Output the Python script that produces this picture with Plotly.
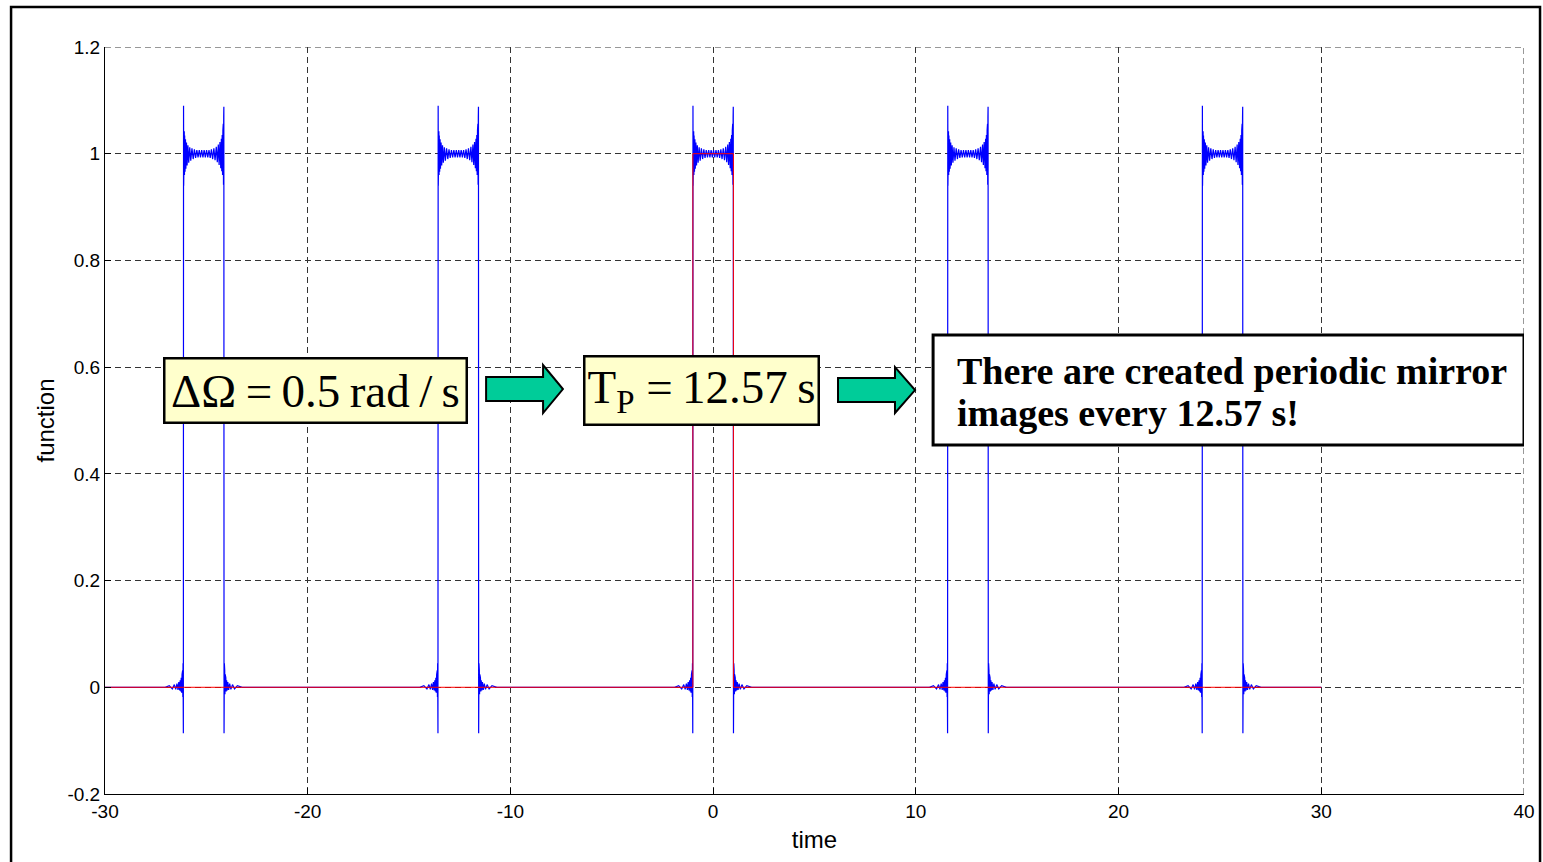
import numpy as np
import plotly.graph_objects as go

# ---------------- data ----------------
x_range = [-30, 40]
y_range = [-0.2, 1.2]
x_ticks = [-30, -20, -10, 0, 10, 20, 30, 40]
x_ticklabels = ["-30", "-20", "-10", "0", "10", "20", "30", "40"]
y_ticks = [-0.2, 0, 0.2, 0.4, 0.6, 0.8, 1, 1.2]
y_ticklabels = ["-0.2", "0", "0.2", "0.4", "0.6", "0.8", "1", "1.2"]

# centres of the pulse and its periodic mirror images (period 12.57 s)
pulse_centers = [-25.13, -12.57, 0.0, 12.57, 25.13]

# one reconstructed pulse (blue), offsets from its centre and values
pulse_offsets = [
    -1.90, -1.70, -1.55, -1.45, -1.38, -1.32, -1.27, -1.23, -1.19, -1.16,
    -1.13, -1.11, -1.09, -1.07, -1.055, -1.04, -1.03, -1.02, -1.012, -1.005,
    -0.995, -0.988, -0.98, -0.97, -0.96, -0.95, -0.94, -0.92, -0.90, -0.88,
    -0.85, -0.82, -0.78, -0.74, -0.69, -0.64, -0.58, -0.52, -0.46, -0.40,
    -0.34, -0.28, -0.22, -0.16, -0.10, -0.04,
    0.02, 0.08, 0.14, 0.20, 0.26, 0.32, 0.38, 0.44, 0.50, 0.56,
    0.62, 0.67, 0.72, 0.76, 0.80, 0.84, 0.87, 0.89, 0.91, 0.93,
    0.945, 0.955, 0.965, 0.975, 0.985, 0.993,
    1.003, 1.01, 1.018, 1.026, 1.036, 1.048, 1.06, 1.075, 1.09, 1.11,
    1.13, 1.16, 1.19, 1.23, 1.28, 1.34, 1.42, 1.52, 1.66, 1.90,
]
pulse_values = [
    0.000, 0.003, -0.003, 0.005, -0.004, 0.007, -0.005, 0.010, -0.006, 0.013,
    -0.008, 0.018, -0.010, 0.024, -0.013, 0.032, -0.018, 0.045, -0.030, -0.086,
    1.090, 0.940, 1.058, 0.952, 1.042, 0.960, 1.034, 0.966, 1.027, 0.972,
    1.021, 0.978, 1.016, 0.983, 1.012, 0.987, 1.010, 0.990, 1.008, 0.992,
    1.007, 0.993, 1.007, 0.993, 1.007, 0.993,
    1.007, 0.993, 1.007, 0.993, 1.007, 0.992, 1.008, 0.990, 1.010, 0.988,
    1.013, 0.984, 1.017, 0.979, 1.022, 0.973, 1.028, 0.967, 1.035, 0.960,
    1.044, 0.952, 1.056, 0.942, 1.068, 1.088,
    -0.086, -0.030, 0.045, -0.018, 0.032, -0.013, 0.024, -0.010, 0.018, -0.008,
    0.013, -0.006, 0.010, -0.005, 0.007, -0.004, 0.005, -0.003, 0.003, 0.000,
]
signal_start = (-30.0, 0.0)
signal_end = (30.0, 0.0)

# original rectangular pulse (red)
rect_x = [-30, -1, -1, 1, 1, 30]
rect_y = [0, 0, 1, 1, 0, 0]

assert len(pulse_offsets) == len(pulse_values)

# ---------------- build blue series ----------------
bx = [signal_start[0]]
by = [signal_start[1]]
for c in pulse_centers:
    bx.extend([c + o for o in pulse_offsets])
    by.extend(pulse_values)
bx.append(signal_end[0])
by.append(signal_end[1])

fig = go.Figure()
fig.add_trace(go.Scatter(x=bx, y=by, mode="lines",
                         line=dict(color="#0000FF", width=1.2), hoverinfo="skip"))
fig.add_trace(go.Scatter(x=rect_x, y=rect_y, mode="lines",
                         line=dict(color="#FF0000", width=1), hoverinfo="skip"))

sans = "Liberation Sans, Arial, sans-serif"
tick_font = dict(family=sans, size=19, color="black")
title_font = dict(family=sans, size=24, color="black")
grid_color = "#333333"
grid_dash = "6px,4px"

fig.update_layout(
    width=1543, height=862,
    margin=dict(l=105, r=19, t=47, b=68, autoexpand=False),
    paper_bgcolor="white", plot_bgcolor="white",
    showlegend=False,
    font=tick_font,
    xaxis=dict(
        range=x_range, tickvals=x_ticks, ticktext=x_ticklabels, ticks="inside", ticklen=6,
        tickcolor="black", showline=True, linecolor="black", linewidth=1,
        mirror=False, zeroline=False, showgrid=True, gridcolor=grid_color,
        griddash=grid_dash, gridwidth=1, tickfont=tick_font, automargin=False,
        title=dict(text="time", font=title_font, standoff=10),
    ),
    yaxis=dict(
        range=y_range, tickvals=y_ticks, ticktext=y_ticklabels, ticks="inside",
        ticklen=6, tickcolor="black", showline=True, linecolor="black",
        linewidth=1, mirror=False, zeroline=False, showgrid=True,
        gridcolor=grid_color, griddash=grid_dash, gridwidth=1, tickfont=tick_font,
        automargin=False,
        title=dict(text="function", font=title_font, standoff=6),
    ),
)

# top and right dashed grid lines (at y=1.2 and x=40)
fig.add_shape(type="line", xref="x", yref="y", x0=-30, x1=40, y0=1.2, y1=1.2,
              line=dict(color=grid_color, width=1, dash=grid_dash), layer="below")
fig.add_shape(type="line", xref="x", yref="y", x0=40, x1=40, y0=-0.2, y1=1.2,
              line=dict(color=grid_color, width=1, dash=grid_dash), layer="below")

serif = "Liberation Serif, Times New Roman, serif"
thin = "\u2009"
fig.add_annotation(x=-19.63, y=0.556, xref="x", yref="y", showarrow=False,
                   text=f"ΔΩ{thin}={thin}0.5{thin}rad{thin}/{thin}s",
                   font=dict(family=serif, size=47, color="black"),
                   bgcolor="#FFFFCC", bordercolor="black", borderwidth=2.5, borderpad=0,
                   width=300, height=62, xanchor="center", yanchor="middle")
fig.add_annotation(x=-0.59, y=0.556, xref="x", yref="y", showarrow=False,
                   text=f"T<sub>P</sub> ={thin}12.57{thin}s",
                   font=dict(family=serif, size=47, color="black"),
                   bgcolor="#FFFFCC", bordercolor="black", borderwidth=2.5, borderpad=0,
                   width=232, height=66, xanchor="center", yanchor="middle")

# third (white) box with two bold lines
fig.add_shape(type="rect", xref="x", yref="y", x0=10.85, x1=40.0, y0=0.4541, y1=0.6602,
              fillcolor="white", line=dict(color="black", width=3), layer="above")
bold_font = dict(family=serif, size=38, color="black")
fig.add_annotation(x=11.93, y=0.5928, xref="x", yref="y", showarrow=False,
                   text="<b>There are created periodic mirror</b>", font=bold_font,
                   xanchor="left", yanchor="middle")
fig.add_annotation(x=11.93, y=0.5141, xref="x", yref="y", showarrow=False,
                   text="<b>images every 12.57 s!</b>", font=bold_font,
                   xanchor="left", yanchor="middle")

# block arrows
arrow_fill = "#00CC99"
for (xl, xb, xt, yh_top, yb_top, yb_bot, yh_bot, ytip) in [
    (-11.20, -8.39, -7.41, 0.604, 0.5815, 0.5365, 0.514, 0.559),
    (6.16, 8.97, 9.96, 0.600, 0.5797, 0.5347, 0.514, 0.557),
]:
    path = (f"M {xl},{yb_top} L {xb},{yb_top} L {xb},{yh_top} L {xt},{ytip} "
            f"L {xb},{yh_bot} L {xb},{yb_bot} L {xl},{yb_bot} Z")
    fig.add_shape(type="path", path=path, xref="x", yref="y",
                  fillcolor=arrow_fill, line=dict(color="black", width=2))

# outer figure frame
fig.add_shape(type="rect", xref="paper", yref="paper",
              x0=-0.0662, x1=1.0113, y0=-0.12, y1=1.0535,
              line=dict(color="black", width=2.5), fillcolor="rgba(0,0,0,0)")

fig.write_html("out.html")
